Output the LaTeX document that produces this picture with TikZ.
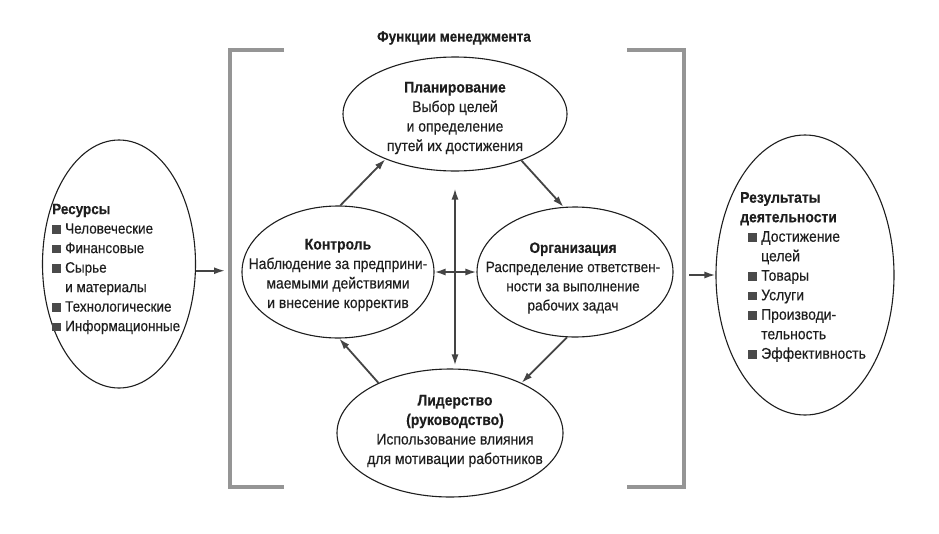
\documentclass[tikz,border=0pt]{standalone}
\usepackage{fontspec}
\setmainfont{Liberation Sans}[FakeStretch=0.9, FakeBold=0.3]
\usetikzlibrary{shapes.geometric,arrows.meta}
\definecolor{ink}{HTML}{1E1E1E}
\definecolor{arrc}{HTML}{444444}
\definecolor{brk}{HTML}{959595}
\definecolor{bulc}{HTML}{4A4A4A}
\newcommand\bul{\textcolor{bulc}{\rule{8.5pt}{8.5pt}}\hspace{4.5pt}}
\newcommand\bind{\hspace*{13pt}}
\tikzset{
  shp/.style={ellipse, draw=ink, line width=1.1pt, inner sep=0pt},
  txt/.style={align=center, text=ink, inner sep=0pt, font=\fontsize{15.5}{19.5}\selectfont},
  arr/.style={draw=arrc, line width=1.8pt, -{Latex[length=11pt,width=7pt]}},
  darr/.style={draw=arrc, line width=1.8pt, {Latex[length=11pt,width=7pt]}-{Latex[length=11pt,width=7pt]}},
  bracket/.style={draw=brk, line width=4.5pt},
  lst/.style={align=left, text=ink, font=\fontsize{15.5}{19.5}\selectfont, inner sep=0pt}
}
\begin{document}
\begin{tikzpicture}[x=1pt,y=-1pt]
\useasboundingbox[fill=white] (0,0) rectangle (939,533);
% brackets
\coordinate (lbt) at (230,50);
\coordinate (lbb) at (230,487);
\coordinate (rbt) at (684,50);
\coordinate (rbb) at (684,487);
\draw[bracket] (284,50) -- (lbt) -- (lbb) -- (284,487);
\draw[bracket] (627,50) -- (rbt) -- (rbb) -- (627,487);
% title
\node[font=\fontsize{15}{17}\selectfont\bfseries, text=ink] (title) at (454,38) {Функции менеджмента};
% function ellipses
\node[shp, minimum width=224pt, minimum height=114pt] (plan) at (455,114) {};
\node[txt] (plant) at (455,118)
  {{\bfseries Планирование}\\Выбор целей\\и определение\\путей их достижения};
\node[shp, minimum width=192pt, minimum height=132pt] (ctrl) at (338,272) {};
\node[txt] (ctrlt) at (338,275)
  {{\bfseries Контроль}\\Наблюдение за предприни-\\маемыми действиями\\и внесение корректив};
\node[shp, minimum width=196pt, minimum height=130pt] (org) at (575,272) {};
\node[txt, font=\fontsize{15}{19.2}\selectfont] (orgt) at (573,278)
  {{\bfseries Организация}\\Распределение ответствен-\\ности за выполнение\\рабочих задач};
\node[shp, minimum width=226pt, minimum height=128pt] (lead) at (450,433) {};
\node[txt] (leadt) at (455,431)
  {{\bfseries Лидерство}\\{\bfseries(руководство)}\\Использование влияния\\для мотивации работников};
% side ellipses
\node[shp, minimum width=153pt, minimum height=248pt] (res) at (119,264) {};
\node[lst, anchor=west, font=\fontsize{15}{19.5}\selectfont] (restext) at (52,269)
  {{\bfseries Ресурсы}\\\bul Человеческие\\\bul Финансовые\\\bul Сырье\\\bind и материалы\\\bul Технологические\\\bul Информационные};
\node[shp, minimum width=178pt, minimum height=280pt] (out) at (805,275) {};
\node[lst, anchor=west] (outtext) at (740,277)
  {{\bfseries Результаты}\\{\bfseries деятельности}\\\hspace*{8pt}\bul Достижение\\\hspace*{8pt}\bind целей\\\hspace*{8pt}\bul Товары\\\hspace*{8pt}\bul Услуги\\\hspace*{8pt}\bul Производи-\\\hspace*{8pt}\bind тельность\\\hspace*{8pt}\bul Эффективность};
% cycle arrows
\draw[arr] (ctrl.88) -- (plan.213);
\draw[arr] (plan.325) -- (org.100);
\draw[arr] (org.263) -- (lead.35);
\draw[arr] (lead.145) -- (ctrl.271);
\draw[darr, shorten <=17pt, shorten >=3pt] (plan.south) -- (plan.south |- lead.north);
\draw[darr] (ctrl.east) -- (org.west);
% in / out arrows
\draw[arr, shorten >=5pt] (res.-5) -- (res.-5 -| lbt);
\draw[arr, shorten <=5pt] (out.west -| rbt) -- (out.west);
\end{tikzpicture}
\end{document}
